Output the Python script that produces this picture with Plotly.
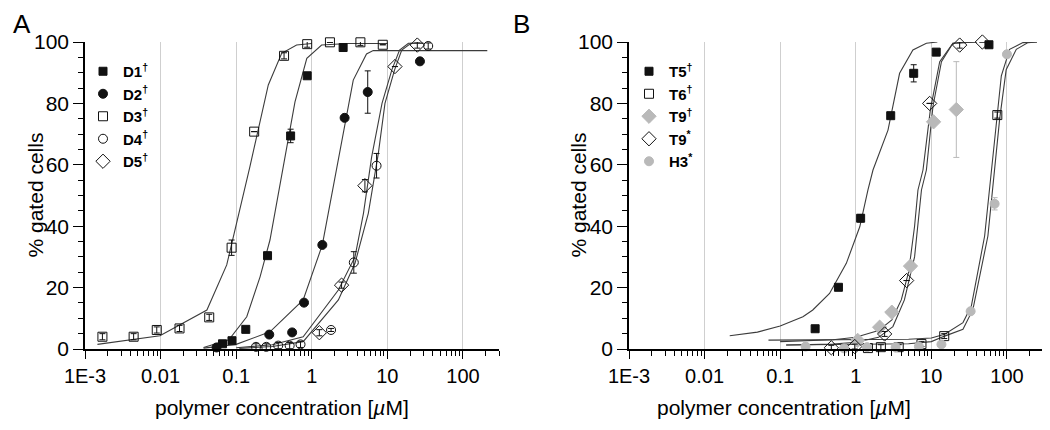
import plotly.graph_objects as go
import math

# ---------------- data ----------------
tick_vals = [0.001, 0.01, 0.1, 1, 10, 100]
tick_text = ["1E-3", "0.01", "0.1", "1", "10", "100"]
y_ticks = [0, 20, 40, 60, 80, 100]

# Panel A points
D1_x = [0.066, 0.088, 0.134, 0.26, 0.525, 0.87, 2.6]
D1_y = [1.7, 2.7, 6.4, 30.4, 69.4, 89, 98.2]
D1_e = [0, 0, 0, 0, 2.2, 0, 0]

D2_x = [0.055, 0.274, 0.55, 0.79, 1.38, 2.72, 5.5, 27]
D2_y = [0.5, 4.7, 5.4, 15.1, 33.9, 75.3, 83.7, 93.7]
D2_e = [0, 0, 0, 0, 0, 0, 6.9, 0]

D3_x = [0.0017, 0.0044, 0.0089, 0.0178, 0.044, 0.087, 0.173, 0.43, 0.87, 1.74, 4.4, 8.7]
D3_y = [4.0, 4.0, 6.2, 6.7, 10.3, 33, 70.8, 95.5, 99.3, 99.9, 99.9, 99.1]
D3_e = [1, 1, 1, 1, 1, 2.5, 0, 1, 1, 0, 1, 0]

D4_x = [0.183, 0.25, 0.36, 0.51, 0.71, 1.8, 3.6, 7.2, 34.7]
D4_y = [0.7, 0.7, 1.1, 1.1, 1.5, 6.2, 28.2, 59.7, 98.7]
D4_e = [1, 1, 1, 1, 1, 0.5, 3.5, 4, 1]

D5_x = [1.26, 2.48, 5.05, 12.6, 24.9]
D5_y = [5.3, 20.8, 53.2, 92, 99]
D5_e = [1, 1, 2, 0, 1]

# Panel A fitted curves (vertices)
cD3_x = [0.00146, 0.0098, 0.041, 0.075, 0.152, 0.266, 0.4, 0.63, 1.0]
cD3_y = [1.5, 4.3, 12.7, 27.4, 59.4, 86, 96.3, 99, 99.5]
cD1_x = [0.037, 0.08, 0.138, 0.207, 0.28, 0.417, 0.6, 0.86, 1.35, 3, 10]
cD1_y = [0.5, 3, 10.5, 23.5, 35.5, 59.4, 80.5, 94.7, 99, 99.5, 99.5]
cD2_x = [0.037, 0.1, 0.28, 0.77, 1.38, 2.36, 3.54, 5.3, 6.5, 210]
cD2_y = [0.3, 1.5, 5.6, 16, 33.9, 64.8, 87.6, 96.1, 97.2, 97.2]
cD5_x = [0.1, 0.3, 0.77, 2.25, 3.73, 4.83, 6.2, 8.5, 11.5, 14.5, 19, 30]
cD5_y = [0.4, 1.4, 4, 19.2, 30, 44.2, 62.6, 80, 91, 97.4, 99.6, 99.6]
cD4_x = [0.11, 0.3, 0.77, 2.25, 3.73, 5.6, 7.6, 9.3, 12.5, 15.5, 20.5, 30]
cD4_y = [0.2, 0.8, 2.4, 16, 27.9, 44.2, 63.7, 80, 91, 97.4, 99.6, 99.6]

# Panel B points
T5_x = [0.29, 0.59, 1.16, 2.9, 5.84, 11.6, 57.8]
T5_y = [6.6, 20.1, 42.6, 76, 89.8, 96.7, 99.1]
T5_e = [0, 0.8, 1.2, 0, 2.8, 0, 0]

T6_x = [1.45, 2.15, 3.7, 7.4, 14.8, 74.6]
T6_y = [0.3, 0.6, 0.6, 1.6, 4.2, 76.2]
T6_e = [0.8, 0.8, 0.8, 0.8, 0.8, 1]

T9d_x = [1.06, 2.07, 3.0, 5.3, 10.7, 21.4]
T9d_y = [2.8, 7.1, 12, 27, 74, 78]
T9d_e = [0, 0, 0, 0, 0, 15.6]

T9s_x = [0.475, 0.97, 2.41, 4.71, 9.5, 23.7, 47.3]
T9s_y = [0.4, 0.8, 4.9, 22.3, 80, 99, 100]
T9s_e = [0.8, 0.8, 0.8, 0, 0, 1, 0]

H3_x = [0.217, 0.7, 1.41, 3.37, 6.85, 13.6, 33.1, 68.7, 100]
H3_y = [0.8, 0.2, 0.6, 0.6, 0.8, 1.5, 12.3, 47.3, 96]
H3_e = [0, 0, 0, 0, 0, 0, 0, 2, 0]

# Panel B fitted curves
cT5_x = [0.0215, 0.05, 0.1, 0.2, 0.27, 0.45, 0.75, 1.13, 1.45, 1.69, 2.67, 3.8, 5.7, 8.6, 12]
cT5_y = [4.3, 5.5, 7.5, 10.5, 12.7, 18.1, 27.9, 39.8, 51.8, 58.3, 71.3, 89.8, 97.4, 99.6, 100]
cT9a_x = [0.1, 0.5, 1.0, 2.0, 3.0, 4.0, 5.0, 6.0, 6.65, 7.75, 9.7, 12.9, 19.3, 40]
cT9a_y = [2.4, 3.0, 3.8, 6.0, 9.5, 16, 25, 40, 51.8, 58.3, 77.9, 93.6, 99.6, 100]
cT9b_x = [0.12, 0.5, 1.0, 2.0, 3.1, 4.4, 6.0, 7.4, 8.6, 10.5, 13.6, 19.3, 40]
cT9b_y = [1.3, 1.6, 2.2, 3.8, 7.3, 16, 30, 51.8, 58.3, 79, 93.6, 99.6, 100]
cT6_x = [0.07, 1, 5, 10, 15, 26.2, 33.8, 50.7, 62.2, 72.4, 84.3, 108.6, 163, 250]
cT6_y = [2.9, 3.0, 3.2, 3.6, 4.8, 8.6, 14, 36.8, 58.5, 74.8, 89, 97.6, 99.8, 100]
cH3_x = [0.12, 1, 5, 10, 15, 26.2, 35.5, 56, 68.7, 80, 97.7, 133, 190, 250]
cH3_y = [1.3, 1.4, 1.7, 2.4, 4.2, 6.4, 12.9, 36.8, 58.5, 74.8, 91, 97.6, 99.8, 100]

# ---------------- styling ----------------
FONT = "Liberation Sans, Arial, Helvetica, sans-serif"
BLACK = "#111111"
GRAY = "#b9b9b9"
CURVE = "#3c3c3c"
OFF = 8                      # page body margin of the browser
W, H = 1050 - OFF, 430 - OFF


def fx(px):
    return (px - OFF) / W


def fy(py):
    return 1 - (py - OFF) / H


# plot areas in window pixels
A_L, A_R = 85, 499
B_L, B_R = 629, 1043
P_T, P_B = 42, 349
XR = [-3, math.log10(300)]

minor_vals = [m * 10 ** e for e in range(-3, 3) for m in range(2, 10) if m * 10 ** e <= 300]

fig = go.Figure()


def add_points(x, y, e, name, symbol, color, size, xa, ya, legend):
    fig.add_trace(go.Scatter(
        x=x, y=y, mode="markers", name=name, xaxis=xa, yaxis=ya, legend=legend,
        cliponaxis=False,
        marker=dict(symbol=symbol, size=size, color=color,
                    line=dict(width=1, color=color)),
        error_y=dict(type="data", array=e, visible=True, color=color,
                     thickness=1, width=3),
    ))


def add_curve(x, y, xa, ya):
    fig.add_trace(go.Scatter(
        x=x, y=y, mode="lines", showlegend=False, xaxis=xa, yaxis=ya,
        line=dict(color=CURVE, width=1.1), hoverinfo="skip",
    ))


# Panel A curves
for cx, cy in [(cD3_x, cD3_y), (cD1_x, cD1_y), (cD2_x, cD2_y), (cD5_x, cD5_y), (cD4_x, cD4_y)]:
    add_curve(cx, cy, "x", "y")
# Panel B curves
for cx, cy in [(cT5_x, cT5_y), (cT9a_x, cT9a_y), (cT9b_x, cT9b_y), (cT6_x, cT6_y), (cH3_x, cH3_y)]:
    add_curve(cx, cy, "x2", "y2")

dag = "<sup>†</sup>"
star = "<sup>*</sup>"
add_points(D1_x, D1_y, D1_e, f"<b>D1{dag}</b>", "square", BLACK, 8, "x", "y", "legend")
add_points(D2_x, D2_y, D2_e, f"<b>D2{dag}</b>", "circle", BLACK, 9, "x", "y", "legend")
add_points(D3_x, D3_y, D3_e, f"<b>D3{dag}</b>", "square-open", BLACK, 9, "x", "y", "legend")
add_points(D4_x, D4_y, D4_e, f"<b>D4{dag}</b>", "circle-open", BLACK, 9, "x", "y", "legend")
add_points(D5_x, D5_y, D5_e, f"<b>D5{dag}</b>", "diamond-open", BLACK, 11, "x", "y", "legend")

add_points(T5_x, T5_y, T5_e, f"<b>T5{dag}</b>", "square", BLACK, 8, "x2", "y2", "legend2")
add_points(T6_x, T6_y, T6_e, f"<b>T6{dag}</b>", "square-open", BLACK, 9, "x2", "y2", "legend2")
add_points(T9d_x, T9d_y, T9d_e, f"<b>T9{dag}</b>", "diamond", GRAY, 11, "x2", "y2", "legend2")
add_points(T9s_x, T9s_y, T9s_e, f"<b>T9{star}</b>", "diamond-open", BLACK, 11, "x2", "y2", "legend2")
add_points(H3_x, H3_y, H3_e, f"<b>H3{star}</b>", "circle", GRAY, 9, "x2", "y2", "legend2")

ydom = [fy(P_B), fy(P_T)]


def xaxis_main(l, r):
    return dict(type="log", range=XR, domain=[fx(l), fx(r)], automargin=False,
                showline=True, linecolor="black", linewidth=1.5,
                ticks="outside", ticklen=8, tickwidth=1.2, tickcolor="black",
                tickmode="array", tickvals=tick_vals, ticktext=tick_text,
                tickfont=dict(family=FONT, size=20, color="black"),
                showgrid=True, gridcolor="#cfcfcf", gridwidth=1,
                minor=dict(tickmode="array", tickvals=minor_vals, ticks="outside",
                           ticklen=5, tickwidth=1, tickcolor="black", showgrid=False),
                zeroline=False)


def xaxis_top(l, r, over):
    return dict(type="log", range=XR, domain=[fx(l), fx(r)], overlaying=over, side="top",
                automargin=False,
                showline=True, linecolor="black", linewidth=1.5,
                ticks="inside", ticklen=8, tickwidth=1.2, tickcolor="black",
                tickmode="array", tickvals=tick_vals, showticklabels=False,
                showgrid=False, zeroline=False,
                minor=dict(tickmode="array", tickvals=minor_vals, ticks="inside",
                           ticklen=5, tickwidth=1, tickcolor="black", showgrid=False))


def yaxis_main():
    return dict(range=[0, 100], domain=ydom, automargin=False,
                showline=True, linecolor="black", linewidth=1.5,
                ticks="outside", ticklen=10, tickwidth=1.2, tickcolor="black",
                tickmode="array", tickvals=y_ticks,
                tickfont=dict(family=FONT, size=21, color="black"),
                showgrid=False, zeroline=False,
                minor=dict(dtick=5, ticks="outside", ticklen=5, tickwidth=1,
                           tickcolor="black", showgrid=False))


def yaxis_right(over):
    return dict(range=[0, 100], domain=ydom, overlaying=over, side="right",
                automargin=False,
                showline=True, linecolor="black", linewidth=1.5,
                ticks="inside", ticklen=10, tickwidth=1.2, tickcolor="black",
                tickmode="array", tickvals=y_ticks, showticklabels=False,
                showgrid=False, zeroline=False,
                minor=dict(dtick=5, ticks="inside", ticklen=5, tickwidth=1,
                           tickcolor="black", showgrid=False))


xa = xaxis_main(A_L, A_R); xa["anchor"] = "y"
xb = xaxis_main(B_L, B_R); xb["anchor"] = "y2"
xa_top = xaxis_top(A_L, A_R, "x"); xa_top["anchor"] = "y"
xb_top = xaxis_top(B_L, B_R, "x2"); xb_top["anchor"] = "y2"
ya = yaxis_main(); ya["anchor"] = "x"
yb = yaxis_main(); yb["anchor"] = "x2"
ya_r = yaxis_right("y"); ya_r["anchor"] = "x"
yb_r = yaxis_right("y2"); yb_r["anchor"] = "x2"

legend_common = dict(bgcolor="rgba(0,0,0,0)", borderwidth=0,
                     font=dict(family=FONT, size=15, color="black"),
                     xanchor="left", yanchor="top", tracegroupgap=0,
                     itemsizing="trace")

annotations = [
    dict(text="A", x=fx(12), y=1, xref="paper", yref="paper", xanchor="left",
         yanchor="top", showarrow=False, borderpad=0,
         font=dict(family=FONT, size=26, color="black")),
    dict(text="B", x=fx(512), y=1, xref="paper", yref="paper", xanchor="left",
         yanchor="top", showarrow=False, borderpad=0,
         font=dict(family=FONT, size=26, color="black")),
]
for cx in [282, 784]:
    annotations.append(dict(text="polymer concentration [<i>µ</i>M]", x=fx(cx), y=fy(407),
                            xref="paper", yref="paper", xanchor="center", yanchor="middle",
                            showarrow=False, font=dict(family=FONT, size=21, color="black")))
for cx in [35, 578]:
    annotations.append(dict(text="% gated cells", x=fx(cx), y=fy(195.5),
                            xref="paper", yref="paper", xanchor="center", yanchor="middle",
                            textangle=-90, showarrow=False,
                            font=dict(family=FONT, size=21, color="black")))

fig.update_layout(
    width=W, height=H, margin=dict(l=0, r=0, t=0, b=0, pad=0, autoexpand=False),
    paper_bgcolor="white", plot_bgcolor="white",
    font=dict(family=FONT, color="black"),
    xaxis=xa, xaxis2=xb, xaxis3=xa_top, xaxis4=xb_top,
    yaxis=ya, yaxis2=yb, yaxis3=ya_r, yaxis4=yb_r,
    legend=dict(x=fx(83), y=fy(55), **legend_common),
    legend2=dict(x=fx(629), y=fy(55), **legend_common),
    annotations=annotations,
    showlegend=True,
)

fig.write_html("out.html")
